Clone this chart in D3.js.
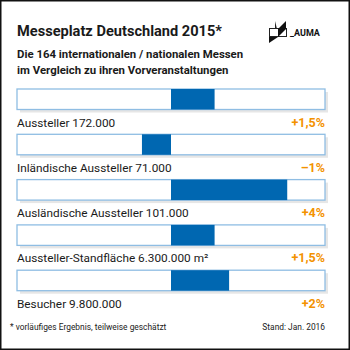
<!DOCTYPE html>
<html><head><meta charset="utf-8">
<script src="https://cdn.jsdelivr.net/npm/d3@7"></script>
<style>body{margin:0;background:#fff}svg{display:block}text{font-family:Roboto,"Noto Sans",sans-serif}</style>
</head><body>
<script>
const categories = ["Aussteller 172.000","Inländische Aussteller 71.000","Ausländische Aussteller 101.000","Aussteller-Standfläche 6.300.000 m²","Besucher 9.800.000"];
const changes = [1.5, -1, 4, 1.5, 2];
const changeLabels = ["+1,5%","\u20131%","+4%","+1,5%","+2%"];
const title = "Messeplatz Deutschland 2015*";
const subtitle = ["Die 164 internationalen / nationalen Messen","im Vergleich zu ihren Vorveranstaltungen"];
const footLeft = "* vorläufiges Ergebnis, teilweise geschätzt";
const footRight = "Stand: Jan. 2016";

const W=350,H=350;
const svg=d3.select("body").append("svg").attr("width",W).attr("height",H);
svg.append("rect").attr("x",0.75).attr("y",0.75).attr("width",W-1.5).attr("height",H-1.5).attr("fill","#fff").attr("stroke","#111").attr("stroke-width",1.5);

svg.append("text").attr("x",17).attr("y",36).attr("font-size",14.6).attr("font-weight",700).attr("fill","#1a1a1a").text(title);
svg.selectAll(".sub").data(subtitle).join("text").attr("x",17).attr("y",(d,i)=>58+i*16).attr("font-size",11.4).attr("font-weight",700).attr("fill","#1a1a1a").text(d=>d);

// logo
const lg=svg.append("g").attr("transform","translate(269,21)");
lg.append("rect").attr("x",0.5).attr("y",7.5).attr("width",17).attr("height",8).attr("fill","#fff").attr("stroke","#222").attr("stroke-width",1);
lg.append("path").attr("d","M6,0 L6,8 L8,8 Z").attr("fill","#222");
lg.append("path").attr("d","M17,0 L17,8 L9,8 Z").attr("fill","#111");
lg.append("path").attr("d","M0,16 L9,16 L0,22 Z").attr("fill","#111");
lg.append("path").attr("d","M9,8 L17,8 L9,16 Z").attr("fill","#111");
svg.append("text").attr("x",290).attr("y",36).attr("font-size",9).attr("font-weight",700).attr("fill","#111").text("_AUMA");

const x=d3.scaleLinear().domain([-5.3,5.3]).range([17,325]);
const y=d3.scaleBand().domain(categories).range([89,89+45.3*5]).paddingInner(0).paddingOuter(0);
const bh=20.5;
const rows=svg.selectAll(".row").data(categories).join("g").attr("transform",d=>`translate(0,${y(d)})`);
rows.append("rect").attr("x",x(-5.3)+3).attr("y",3).attr("width",x(5.3)-x(-5.3)).attr("height",bh).attr("fill","#e6e6e6");
rows.append("rect").attr("x",x(-5.3)).attr("y",0).attr("width",x(5.3)-x(-5.3)).attr("height",bh).attr("fill","#fff").attr("stroke","#8fbde3").attr("stroke-width",1.3);
rows.append("rect").attr("x",(d,i)=>x(Math.min(0,changes[i]))).attr("y",0).attr("width",(d,i)=>Math.abs(x(changes[i])-x(0))).attr("height",bh).attr("fill","#0067b1");
rows.append("text").attr("x",17).attr("y",37.5).attr("font-size",11.8).attr("fill","#1a1a1a").text(d=>d);
rows.append("text").attr("x",325).attr("y",37.5).attr("text-anchor","end").attr("font-size",12.5).attr("font-weight",700).attr("fill","#f39200").text((d,i)=>changeLabels[i]);

svg.append("text").attr("x",10).attr("y",330).attr("font-size",8.4).attr("fill","#1a1a1a").text(footLeft);
svg.append("text").attr("x",325).attr("y",330).attr("text-anchor","end").attr("font-size",8.4).attr("fill","#1a1a1a").text(footRight);
</script>
</body></html>
